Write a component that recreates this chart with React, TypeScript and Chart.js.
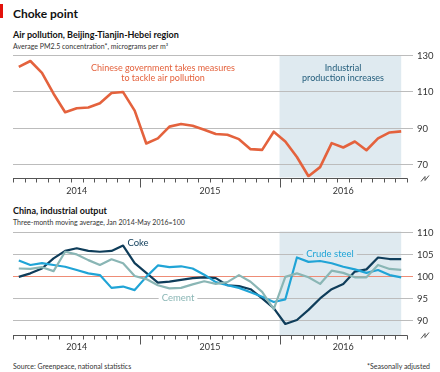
import React, { useEffect, useRef } from "react";
import { Chart, registerables } from "chart.js";
Chart.register(...registerables);

// Months from Feb 2014 (index 0) to Nov 2016 (index 33); axis runs to Dec 2016 start (34)
const yearLabels = ["2014", "2015", "2016"];
const yearStarts = [0, 11, 23, 34];

const airPollution = [
  123.5, 126.7, 120.2, 108.7, 98.5, 100.7, 101.1, 103.5, 109.1, 109.6, 99.4,
  81.3, 84.1, 90.6, 92.0, 91.1, 88.9, 86.5, 86.1, 83.7, 78.2, 77.8, 87.8,
  82.4, 73.9, 63.3, 68.3, 81.5, 79.1, 82.4, 77.6, 84.1, 87.4, 88.0,
];

const coke = [
  99.7, 100.5, 101.6, 103.9, 105.6, 106.2, 105.6, 105.4, 105.6, 106.8, 102.8,
  100.6, 98.4, 98.6, 99.0, 99.4, 99.6, 99.4, 97.8, 97.6, 96.9, 94.8, 92.6,
  89.0, 89.9, 92.2, 94.8, 96.9, 98.1, 100.9, 101.4, 104.1, 103.75, 103.75,
];

const crudeSteel = [
  103.4, 102.4, 102.8, 102.4, 102.0, 101.25, 100.5, 100.1, 97.2, 97.5, 96.7,
  99.7, 102.3, 101.9, 102.1, 101.6, 100.2, 98.5, 97.8, 97.2, 96.2, 95.2, 94.0,
  94.6, 104.1, 103.1, 103.3, 102.8, 102.0, 101.4, 100.6, 101.25, 100.1, 99.6,
];

const cement = [
  101.6, 101.5, 101.9, 101.0, 105.4, 104.8, 103.5, 102.4, 103.7, 102.8, 99.9,
  99.2, 97.8, 97.1, 97.2, 98.0, 98.7, 98.1, 98.5, 100.1, 98.6, 96.3, 92.4,
  99.7, 100.5, 99.6, 98.1, 101.1, 100.6, 99.6, 99.6, 102.4, 101.5, 101.3,
];

const airTicks = [130, 110, 90, 70];
const outputTicks = [110, 105, 100, 95, 90];

const FONT = "Lato, 'Open Sans', sans-serif";
const SHADE = "#dfeaf0";
const GRID = "#bcbcbc";
const RED100 = "#ee8c76";
const AIR = "#e4623d";
const COKE = "#0f3d5a";
const STEEL = "#20a4d6";
const CEMENT = "#8ab6b5";

const toPts = (arr: number[]) => arr.map((v, i) => ({ x: i + 0.5, y: v }));

type Deco = {
  ticks: number[];
  redAt?: number;
  yearY: number;
  shadeStart: number;
  shadeEnd: number;
  labels: { text: string[]; x: number; y: number; color: string; bold?: boolean; size: number; bg?: string }[];
};

function makePlugin(cfg: Deco) {
  return {
    id: "deco",
    beforeDatasetsDraw(chart: any) {
      const { ctx, chartArea, scales } = chart;
      const x = scales.x;
      const y = scales.y;
      ctx.save();
      // shaded period
      const sx0 = x.getPixelForValue(cfg.shadeStart);
      const sx1 = x.getPixelForValue(cfg.shadeEnd);
      ctx.fillStyle = SHADE;
      ctx.fillRect(sx0, chartArea.top, sx1 - sx0, chartArea.bottom - chartArea.top);
      // gridlines + labels
      ctx.lineWidth = 1;
      ctx.font = `9.5px ${FONT}`;
      ctx.textBaseline = "middle";
      ctx.textAlign = "left";
      for (const t of cfg.ticks) {
        const py = Math.round(y.getPixelForValue(t)) + 0.5;
        ctx.strokeStyle = t === cfg.redAt ? RED100 : GRID;
        ctx.beginPath();
        ctx.moveTo(chartArea.left, py);
        ctx.lineTo(413, py);
        ctx.stroke();
        ctx.fillStyle = "#333";
        ctx.fillText(String(t), 417, py);
      }
      // x axis line
      const ay = Math.round(chartArea.bottom) + 0.5;
      ctx.strokeStyle = "#555";
      ctx.beginPath();
      ctx.moveTo(chartArea.left, ay);
      ctx.lineTo(chartArea.right + 0.5, ay);
      ctx.stroke();
      // month ticks
      for (let m = yearStarts[0]; m <= yearStarts[yearStarts.length - 1]; m++) {
        const px = Math.round(x.getPixelForValue(m)) + 0.5;
        const big = m === yearStarts[1] || m === yearStarts[2];
        ctx.beginPath();
        ctx.moveTo(px, ay);
        ctx.lineTo(px, ay + (big ? 9 : 4));
        ctx.stroke();
      }
      // axis break mark
      ctx.beginPath();
      ctx.moveTo(421, ay + 3);
      ctx.lineTo(425, ay - 2);
      ctx.lineTo(425, ay + 2);
      ctx.lineTo(429, ay - 3);
      ctx.stroke();
      // year labels
      ctx.font = `9px ${FONT}`;
      ctx.textAlign = "center";
      ctx.fillStyle = "#333";
      for (let i = 0; i < yearLabels.length; i++) {
        const mid = (yearStarts[i] + yearStarts[i + 1]) / 2;
        ctx.fillText(yearLabels[i], x.getPixelForValue(mid), cfg.yearY);
      }
      // annotation labels
      for (const l of cfg.labels) {
        ctx.font = `${l.bold ? "bold " : ""}${l.size}px ${FONT}`;
        ctx.textAlign = "center";
        l.text.forEach((line, i) => {
          const ly = l.y + i * (l.size + 1);
          if (l.bg) {
            const w = ctx.measureText(line).width;
            ctx.fillStyle = l.bg;
            ctx.fillRect(l.x - w / 2 - 3, ly - l.size / 2 - 1, w + 6, l.size + 2);
          }
          ctx.fillStyle = l.color;
          ctx.fillText(line, l.x, ly);
        });
      }
      ctx.restore();
    },
  };
}

function useChart(ref: React.RefObject<HTMLCanvasElement>, build: (c: HTMLCanvasElement) => Chart) {
  useEffect(() => {
    if (!ref.current) return;
    const ch = build(ref.current);
    return () => ch.destroy();
  }, []);
}

const baseOptions = (padding: any, xmin: number, xmax: number, ymin: number, ymax: number) => ({
  animation: false as const,
  responsive: false,
  maintainAspectRatio: false,
  events: [] as any[],
  layout: { padding },
  scales: {
    x: { type: "linear" as const, min: xmin, max: xmax, display: false },
    y: { type: "linear" as const, min: ymin, max: ymax, display: false },
  },
  plugins: { legend: { display: false }, tooltip: { enabled: false } },
  elements: { point: { radius: 0 }, line: { tension: 0, borderJoinStyle: "round" as const } },
});

const textStyle = (top: number, size: number, bold = false): React.CSSProperties => ({
  position: "absolute",
  left: 13,
  top,
  fontFamily: FONT,
  fontSize: size,
  fontWeight: bold ? 700 : 400,
  lineHeight: `${size + 2}px`,
  color: "#111",
  whiteSpace: "nowrap",
});

export default function App() {
  const topRef = useRef<HTMLCanvasElement>(null);
  const botRef = useRef<HTMLCanvasElement>(null);

  useChart(topRef, (c) =>
    new Chart(c, {
      type: "line",
      data: {
        datasets: [
          { data: toPts(airPollution), borderColor: AIR, borderWidth: 2.6, pointRadius: 0 },
        ],
      },
      options: baseOptions({ left: 13, right: 33, top: 5, bottom: 22.5 }, 0, 34, 62.6, 130) as any,
      plugins: [
        makePlugin({
          ticks: airTicks,
          yearY: 141,
          shadeStart: 23,
          shadeEnd: 33.5,
          labels: [
            { text: ["Chinese government takes measures", "to tackle air pollution"], x: 163, y: 18.5, color: AIR, size: 9 },
            { text: ["Industrial", "production increases"], x: 343, y: 18.5, color: "#245e7c", size: 9 },
          ],
        }),
      ],
    })
  );

  useChart(botRef, (c) =>
    new Chart(c, {
      type: "line",
      data: {
        datasets: [
          { data: toPts(cement), borderColor: CEMENT, borderWidth: 2.2, pointRadius: 0 },
          { data: toPts(crudeSteel), borderColor: STEEL, borderWidth: 2.2, pointRadius: 0 },
          { data: toPts(coke), borderColor: COKE, borderWidth: 2.2, pointRadius: 0 },
        ],
      },
      options: baseOptions({ left: 13, right: 33, top: 6.5, bottom: 20 }, 0, 34, 86.5, 110) as any,
      plugins: [
        makePlugin({
          ticks: outputTicks,
          redAt: 100,
          yearY: 122,
          shadeStart: 23,
          shadeEnd: 33.5,
          labels: [
            { text: ["Coke"], x: 138, y: 18, color: COKE, size: 9.5, bold: false },
            { text: ["Cement"], x: 178, y: 72.5, color: CEMENT, size: 9.5, bg: "#ffffff" },
            { text: ["Crude steel"], x: 330, y: 28.5, color: STEEL, size: 9.5, bg: SHADE },
          ],
        }),
      ],
    })
  );

  return (
    <div style={{ position: "fixed", left: 0, top: 0, width: 440, height: 372, background: "#fff", overflow: "hidden" }}>
      <div style={{ position: "absolute", left: 0, top: 4, width: 3, height: 14, background: "#e3120b" }} />
      <div style={textStyle(7, 12, true)}>Choke point</div>
      <div style={textStyle(29, 9, true)}>Air pollution, Beijing-Tianjin-Hebei region</div>
      <div style={{ ...textStyle(41.5, 7), color: "#333" }}>Average PM2.5 concentration*, micrograms per m³</div>
      <canvas ref={topRef} width={440} height={150} style={{ position: "absolute", left: 0, top: 50, width: 440, height: 150 }} />
      <div style={textStyle(204.5, 9, true)}>China, industrial output</div>
      <div style={{ ...textStyle(217.5, 7), color: "#333" }}>Three-month moving average, Jan 2014-May 2016=100</div>
      <canvas ref={botRef} width={440} height={130} style={{ position: "absolute", left: 0, top: 225, width: 440, height: 130 }} />
      <div style={{ ...textStyle(361.5, 7), color: "#333" }}>Source: Greenpeace, national statistics</div>
      <div style={{ ...textStyle(361.5, 7), left: undefined, right: 10, color: "#333" }}>*Seasonally adjusted</div>
    </div>
  );
}
